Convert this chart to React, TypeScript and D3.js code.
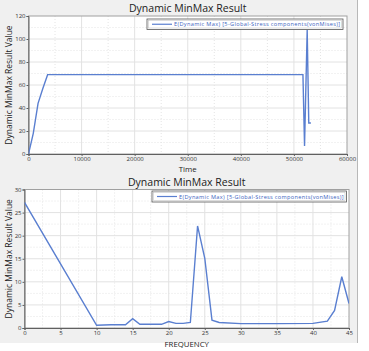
import React, { useEffect, useRef } from 'react';
import * as d3 from 'd3';

// time response (top panel)
const timeX = [0, 900, 1800, 2700, 3600, 51700, 52000, 52500, 52800, 53200];
const timeY = [0, 18, 44, 57, 69, 69, 7, 108, 27, 27];
const timeTicks = [0, 10000, 20000, 30000, 40000, 50000, 60000];
const timeValTicks = [0, 20, 40, 60, 80, 100, 120];

// frequency response (bottom panel)
const freqX = [0, 10, 12, 14, 15, 16, 19, 20, 21, 22, 23, 24, 25, 26, 27, 30, 35, 40, 42, 43, 44, 45];
const freqY = [27.2, 0.6, 0.7, 0.7, 2.0, 0.8, 0.8, 1.4, 1.0, 1.0, 1.2, 22.1, 15.1, 1.7, 1.2, 0.95, 0.95, 1.0, 1.5, 3.8, 11.1, 5.3];
const freqTicks = [0, 5, 10, 15, 20, 25, 30, 35, 40, 45];
const freqValTicks = [0, 5, 10, 15, 20, 25, 30];

const title = 'Dynamic MinMax Result';
const yTitle = 'Dynamic MinMax Result Value';
const legendText = 'E(Dynamic Max) [5-Global-Stress components(vonMises)]';

const FONT = '"Open Sans", "DejaVu Sans", sans-serif';
const LINE = '#5a7fd0';

function drawPanel(svg, opts) {
    const {
        left, top, right, bottom, xDomain, yDomain, xTicks, yTicks, xs, ys,
        xLabel, titleY, legend, yLabelX, xLabelY,
    } = opts;

    const x = d3.scaleLinear().domain(xDomain).range([left, right]);
    const y = d3.scaleLinear().domain(yDomain).range([bottom, top]);

    const g = svg.append('g');

    g.append('text')
        .attr('x', (left + right) / 2)
        .attr('y', titleY)
        .attr('text-anchor', 'middle')
        .style('font-family', FONT)
        .style('font-size', '10.5px')
        .attr('fill', '#222')
        .text(title);

    g.append('rect')
        .attr('x', left).attr('y', top)
        .attr('width', right - left).attr('height', bottom - top)
        .attr('fill', '#fff');

    // minor grid (dotted) at half steps
    const xStep = xTicks[1] - xTicks[0];
    const yStep = yTicks[1] - yTicks[0];
    const grid = g.append('g');
    xTicks.slice(0, -1).forEach((t) => {
        grid.append('line')
            .attr('x1', x(t + xStep / 2)).attr('x2', x(t + xStep / 2))
            .attr('y1', top).attr('y2', bottom)
            .attr('stroke', '#e4e4e4').attr('stroke-dasharray', '1,2');
    });
    yTicks.slice(0, -1).forEach((t) => {
        grid.append('line')
            .attr('y1', y(t + yStep / 2)).attr('y2', y(t + yStep / 2))
            .attr('x1', left).attr('x2', right)
            .attr('stroke', '#e4e4e4').attr('stroke-dasharray', '1,2');
    });
    xTicks.slice(1, -1).forEach((t) => {
        grid.append('line')
            .attr('x1', x(t)).attr('x2', x(t))
            .attr('y1', top).attr('y2', bottom)
            .attr('stroke', '#e2e2e2');
    });
    yTicks.slice(1, -1).forEach((t) => {
        grid.append('line')
            .attr('y1', y(t)).attr('y2', y(t))
            .attr('x1', left).attr('x2', right)
            .attr('stroke', '#e2e2e2');
    });

    // frame
    g.append('rect')
        .attr('x', left).attr('y', top)
        .attr('width', right - left).attr('height', bottom - top)
        .attr('fill', 'none').attr('stroke', '#a0a0a0');

    // axes
    const xAxis = g.append('g')
        .attr('transform', `translate(0,${bottom})`)
        .call(d3.axisBottom(x).tickValues(xTicks).tickSize(2).tickPadding(1).tickFormat(d3.format('d')));
    const yAxis = g.append('g')
        .attr('transform', `translate(${left},0)`)
        .call(d3.axisLeft(y).tickValues(yTicks).tickSize(2).tickPadding(1).tickFormat(d3.format('d')));
    [xAxis, yAxis].forEach((a) => {
        a.select('.domain').attr('stroke', '#606060');
        a.selectAll('line').attr('stroke', '#606060');
        a.selectAll('text')
            .style('font-family', FONT)
            .style('font-size', '6px')
            .attr('fill', '#333');
    });

    g.append('text')
        .attr('x', (left + right) / 2)
        .attr('y', xLabelY)
        .attr('text-anchor', 'middle')
        .style('font-family', FONT)
        .style('font-size', '7.8px')
        .attr('fill', '#222')
        .text(xLabel);

    g.append('text')
        .attr('transform', `translate(${yLabelX},${(top + bottom) / 2}) rotate(-90)`)
        .attr('text-anchor', 'middle')
        .style('font-family', FONT)
        .style('font-size', '8.5px')
        .attr('fill', '#222')
        .text(yTitle);

    // data line
    const clipId = `clip-${Math.round(top)}`;
    g.append('clipPath').attr('id', clipId)
        .append('rect')
        .attr('x', left).attr('y', top)
        .attr('width', right - left).attr('height', bottom - top);
    const pts = xs.map((v, i) => [v, ys[i]]);
    g.append('path')
        .datum(pts)
        .attr('clip-path', `url(#${clipId})`)
        .attr('d', d3.line().x((d) => x(d[0])).y((d) => y(d[1])))
        .attr('fill', 'none')
        .attr('stroke', LINE)
        .attr('stroke-width', 1.4);

    // legend
    const lg = g.append('g');
    lg.append('rect')
        .attr('x', legend.x0).attr('y', legend.y0)
        .attr('width', legend.x1 - legend.x0).attr('height', legend.y1 - legend.y0)
        .attr('fill', '#fff').attr('stroke', '#555').attr('stroke-width', 0.8);
    lg.append('rect')
        .attr('x', legend.x0 + 1.5).attr('y', legend.y0 + 1.5)
        .attr('width', legend.x1 - legend.x0 - 3).attr('height', legend.y1 - legend.y0 - 3)
        .attr('fill', 'none').attr('stroke', '#bbb').attr('stroke-width', 0.5);
    const my = (legend.y0 + legend.y1) / 2;
    lg.append('line')
        .attr('x1', legend.x0 + 5).attr('x2', legend.x0 + 25)
        .attr('y1', my).attr('y2', my)
        .attr('stroke', LINE).attr('stroke-width', 1.2);
    lg.append('text')
        .attr('x', legend.x0 + 27)
        .attr('y', my + 2)
        .style('font-family', FONT)
        .style('font-size', '5.6px')
        .attr('fill', '#3c64c0')
        .attr('textLength', legend.x1 - legend.x0 - 30)
        .text(legendText);
}

export default function App() {
    const ref = useRef(null);

    useEffect(() => {
        const svg = d3.select(ref.current);
        svg.selectAll('*').remove();

        svg.append('rect').attr('width', 369).attr('height', 351).attr('fill', '#fff');
        svg.append('rect').attr('width', 357).attr('height', 343).attr('fill', '#f0f0f0');
        svg.append('line')
            .attr('x1', 357.5).attr('x2', 357.5).attr('y1', 0).attr('y2', 343)
            .attr('stroke', '#b8b8b8');

        drawPanel(svg, {
            left: 28.5, top: 16, right: 347, bottom: 154,
            xDomain: [0, 60000], yDomain: [0, 120],
            xTicks: timeTicks, yTicks: timeValTicks,
            xs: timeX, ys: timeY,
            xLabel: 'Time', titleY: 11.5, yLabelX: 12, xLabelY: 172,
            legend: { x0: 147, y0: 19, x1: 343, y1: 29.5 },
        });

        drawPanel(svg, {
            left: 24.5, top: 189.5, right: 349, bottom: 328,
            xDomain: [0, 45], yDomain: [0, 30],
            xTicks: freqTicks, yTicks: freqValTicks,
            xs: freqX, ys: freqY,
            xLabel: 'FREQUENCY', titleY: 186, yLabelX: 12, xLabelY: 346.5,
            legend: { x0: 152, y0: 191, x1: 346.5, y1: 202 },
        });
    }, []);

    return (
        <svg
            ref={ref}
            width={369}
            height={351}
            style={{ position: 'absolute', left: 0, top: 0 }}
        />
    );
}
